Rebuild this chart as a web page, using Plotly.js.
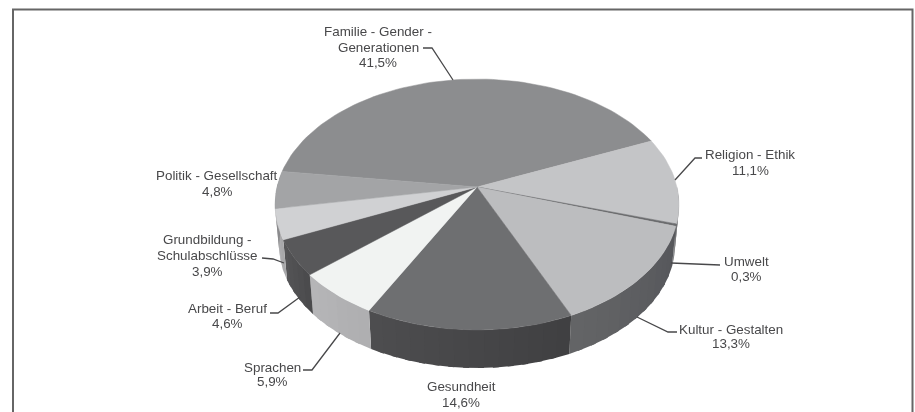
<!DOCTYPE html>
<html>
<head>
<meta charset="utf-8">
<script src="https://cdn.plot.ly/plotly-3.0.1.min.js"></script>
<style>html,body{margin:0;padding:0;background:#fff}#chart{width:915px;height:412px;filter:blur(0.45px)}</style>
</head>
<body>
<div id="chart"></div>
<script>
// Data (clockwise from the top-left boundary)
const categories = ["Familie - Gender - Generationen","Religion - Ethik","Umwelt","Kultur - Gestalten","Gesundheit","Sprachen","Arbeit - Beruf","Grundbildung - Schulabschlüsse","Politik - Gesellschaft"];
const shares = [41.5,11.1,0.3,13.3,14.6,5.9,4.6,3.9,4.8];
const shareLabels = ["41,5%","11,1%","0,3%","13,3%","14,6%","5,9%","4,6%","3,9%","4,8%"];
const labelLines = [
  ["Familie - Gender -","Generationen","41,5%"],["Religion - Ethik","11,1%"],["Umwelt","0,3%"],
  ["Kultur - Gestalten","13,3%"],["Gesundheit","14,6%"],["Sprachen","5,9%"],
  ["Arbeit - Beruf","4,6%"],["Grundbildung -","Schulabschlüsse","3,9%"],["Politik - Gesellschaft","4,8%"]];
// Label placement: centre x and the y of each line
const labelX = [378,750,746,731,461,272,227,207,217];
const labelY = [[31,47,62],[154,170],[261,276],[329,343],[386,402],[367,381],[308,323],[239,255,271],[175,191]];
const topColours = ["#8c8d8f","#c4c5c7","#6b6c6e","#bcbdbf","#6e6f71","#f1f3f2","#58585a","#d0d1d3","#a3a4a6"];
const sideFrom = ["#8c8d8f","#77787a","#5a5b5d","#55565a","#3f3f41","#aeaeb0","#4a4a4c","#a6a6a8","#8a8a8c"];
const sideTo   = ["#8c8d8f","#77787a","#5a5b5d","#646567","#4d4d4f","#b6b6b8","#565658","#b2b2b4","#8a8a8c"];
const leaders = [
  "M423,48 L432,48 L453,80","M675,180 L695,158 L702,158","M671,263 L720,265",
  "M637,317 L668,332 L677,332","M340,333 L312,370 L303,370","M300,297 L278,313 L270,313",
  "M284,263 L273,259 L262,258"];

// View geometry of the tilted disc
const view = {x0:477, y0:187, a:200, b:123, k:0.1394, depth:41.6, a2:196, b2:120, end:66.8};
const rad = d => d*Math.PI/180;
function topPt(t){const X=Math.sin(rad(t)),Y=Math.cos(rad(t)),w=1+view.k*Y;
  return [view.x0+view.a*X/w, view.y0-view.b*Y/w];}
function botPt(t){const X=Math.sin(rad(t)),Y=Math.cos(rad(t)),w=1+view.k*Y;
  return [view.x0+view.a2*X/w, view.y0+view.depth-view.b2*Y/w];}
function mix(c1,c2,f){const p=c=>[1,3,5].map(i=>parseInt(c.substr(i,2),16));
  const a=p(c1),b=p(c2);return "rgb("+a.map((v,i)=>Math.round(v+(b[i]-v)*f)).join(",")+")";}
function arc(fn,t0,t1,n){const o=[];for(let i=0;i<=n;i++)o.push(fn(t0+(t1-t0)*i/n));return o;}

// Angles from the values
const deg = shares.map(s=>s*3.6);
let cur = view.end-deg[0];
const spans = deg.map(d=>{const r=[cur,cur+d];cur+=d;return r;});

const traces = [];
// Rim first, then the faces on top. Each strip runs under the next one, so no seam shows.
spans.forEach((s,i)=>{
  const lo=Math.max(s[0],90), hi=Math.min(s[1],290);
  if(hi<=lo) return;
  const strips=Math.max(1,Math.ceil((hi-lo)/4));
  for(let j=0;j<strips;j++){
    const a=lo+(hi-lo)*j/strips,b=Math.min(hi,lo+(hi-lo)*(j+1)/strips+1.5);
    const col=mix(sideFrom[i],sideTo[i],(j+.5)/strips);
    const pts=arc(topPt,a,b,4).concat(arc(botPt,b,a,4));
    pts.push(pts[0]);
    traces.push({type:"scatter",mode:"lines",x:pts.map(p=>p[0]),y:pts.map(p=>p[1]),fill:"toself",
      fillcolor:col,line:{color:col,width:0},hoverinfo:"skip",showlegend:false});
  }
});
spans.forEach((s,i)=>{
  const pts=[[view.x0,view.y0]].concat(arc(topPt,s[0],s[1],Math.max(4,Math.ceil(deg[i]/2))));
  pts.push([view.x0,view.y0]);
  traces.push({type:"scatter",mode:"lines",x:pts.map(p=>p[0]),y:pts.map(p=>p[1]),fill:"toself",
    fillcolor:topColours[i],line:{color:topColours[i],width:0.5},name:categories[i],
    text:categories[i]+": "+shareLabels[i],hoverinfo:"text",showlegend:false});
});

const annotations=[];
labelLines.forEach((lines,i)=>lines.forEach((t,j)=>annotations.push({
  xref:"x",yref:"y",x:labelX[i],y:labelY[i][j],text:t,showarrow:false,xanchor:"center",yanchor:"middle",
  font:{family:"Liberation Sans, Arial, sans-serif",size:13.4,color:"#48484a"}})));

const shapes=leaders.map(p=>({type:"path",xref:"x",yref:"y",path:p,line:{color:"#48484a",width:1.3}}));
shapes.push({type:"path",xref:"x",yref:"y",path:"M13,412 L13,9.5 L912.5,9.5 L912.5,412",line:{color:"#666666",width:2}});

Plotly.newPlot("chart",traces,{
  width:915,height:412,margin:{l:0,r:0,t:0,b:0},paper_bgcolor:"#ffffff",plot_bgcolor:"#ffffff",showlegend:false,
  xaxis:{range:[0,915],visible:false,fixedrange:true},
  yaxis:{range:[412,0],visible:false,fixedrange:true},
  annotations,shapes
},{displayModeBar:false});
</script>
</body>
</html>
